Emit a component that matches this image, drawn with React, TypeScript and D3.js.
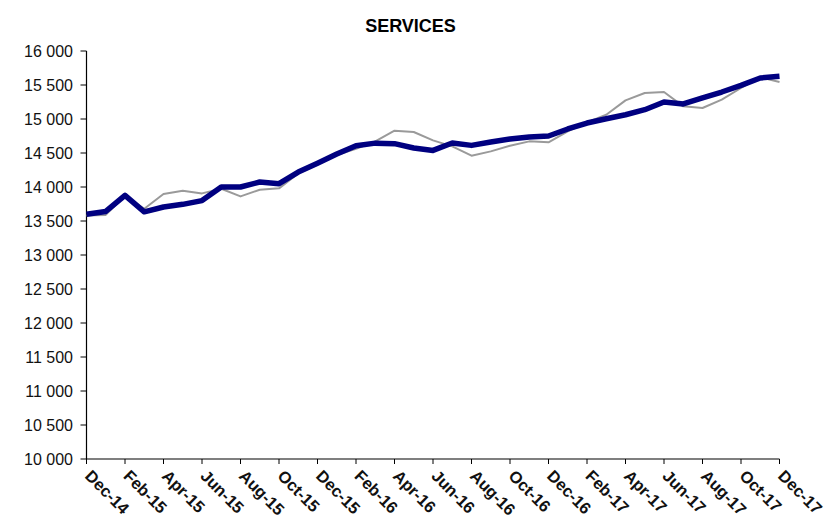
import React from "react";
import * as d3 from "d3";

const months = [
  "Dec-14", "Jan-15", "Feb-15", "Mar-15", "Apr-15", "May-15", "Jun-15", "Jul-15", "Aug-15", "Sep-15", "Oct-15", "Nov-15",
  "Dec-15", "Jan-16", "Feb-16", "Mar-16", "Apr-16", "May-16", "Jun-16", "Jul-16", "Aug-16", "Sep-16", "Oct-16", "Nov-16",
  "Dec-16", "Jan-17", "Feb-17", "Mar-17", "Apr-17", "May-17", "Jun-17", "Jul-17", "Aug-17", "Sep-17", "Oct-17", "Nov-17",
  "Dec-17",
];

const trend = [
  13600, 13640, 13877, 13635, 13706, 13745, 13800, 14000, 14000, 14073, 14049, 14220,
  14350, 14485, 14607, 14645, 14637, 14573, 14538, 14647, 14612, 14662, 14706, 14735,
  14750, 14853, 14941, 15004, 15063, 15137, 15250, 15221, 15309, 15397, 15494, 15603,
  15627,
];

const raw = [
  13580, 13590, 13870, 13680, 13897, 13945, 13906, 13975, 13862, 13960, 13980, 14200,
  14330, 14470, 14560, 14671, 14828, 14809, 14685, 14597, 14460, 14524, 14607, 14671,
  14657, 14818, 14950, 15063, 15274, 15382, 15397, 15186, 15162, 15284, 15456, 15612,
  15544,
];

const yTicks = [10000, 10500, 11000, 11500, 12000, 12500, 13000, 13500, 14000, 14500, 15000, 15500, 16000];

const W = 832;
const H = 524;
const X0 = 86.5;
const X1 = 779.5;
const Y0 = 459;
const Y1 = 51;

export default function App() {
  const x = d3.scalePoint<string>().domain(months).range([X0, X1]);
  const y = d3.scaleLinear().domain([10000, 16000]).range([Y0, Y1]);
  const line = d3
    .line<number>()
    .x((_, i) => x(months[i]) as number)
    .y((d) => y(d));
  const fmt = (v: number) => d3.format(",")(v).replace(",", " ");
  const labelled = months.filter((_, i) => i % 2 === 0);
  const font = "'Liberation Sans', Arial, sans-serif";

  return (
    <svg
      width={W}
      height={H}
      style={{ position: "absolute", left: 0, top: 0, background: "#fff" }}
      fontFamily={font}
    >
      <text x={410.5} y={31.5} textAnchor="middle" fontWeight="bold" fontSize={18}>
        SERVICES
      </text>
      {/* y axis */}
      <line x1={X0} x2={X0} y1={Y1} y2={Y0} stroke="#000" strokeWidth={1.2} />
      {yTicks.map((t) => (
        <g key={t}>
          <line x1={X0 - 6} x2={X0} y1={y(t)} y2={y(t)} stroke="#000" strokeWidth={1} />
          <text x={73} y={y(t)} dy="0.36em" textAnchor="end" fontSize={16} fill="#111">
            {fmt(t)}
          </text>
        </g>
      ))}
      {/* x axis */}
      <line x1={X0} x2={X1} y1={Y0} y2={Y0} stroke="#000" strokeWidth={1.2} />
      {labelled.map((m) => (
        <g key={m} transform={`translate(${x(m)},${Y0})`}>
          <line y1={0} y2={5} stroke="#000" strokeWidth={1} />
          <text
            transform="translate(-2.5,18) rotate(45)"
            fontSize={16.5}
            fontWeight="bold"
            fill="#111"
          >
            {m}
          </text>
        </g>
      ))}
      <path d={line(raw) as string} fill="none" stroke="#9a9a9a" strokeWidth={2} strokeLinejoin="round" />
      <path d={line(trend) as string} fill="none" stroke="#000080" strokeWidth={5.5} strokeLinejoin="round" />
    </svg>
  );
}
